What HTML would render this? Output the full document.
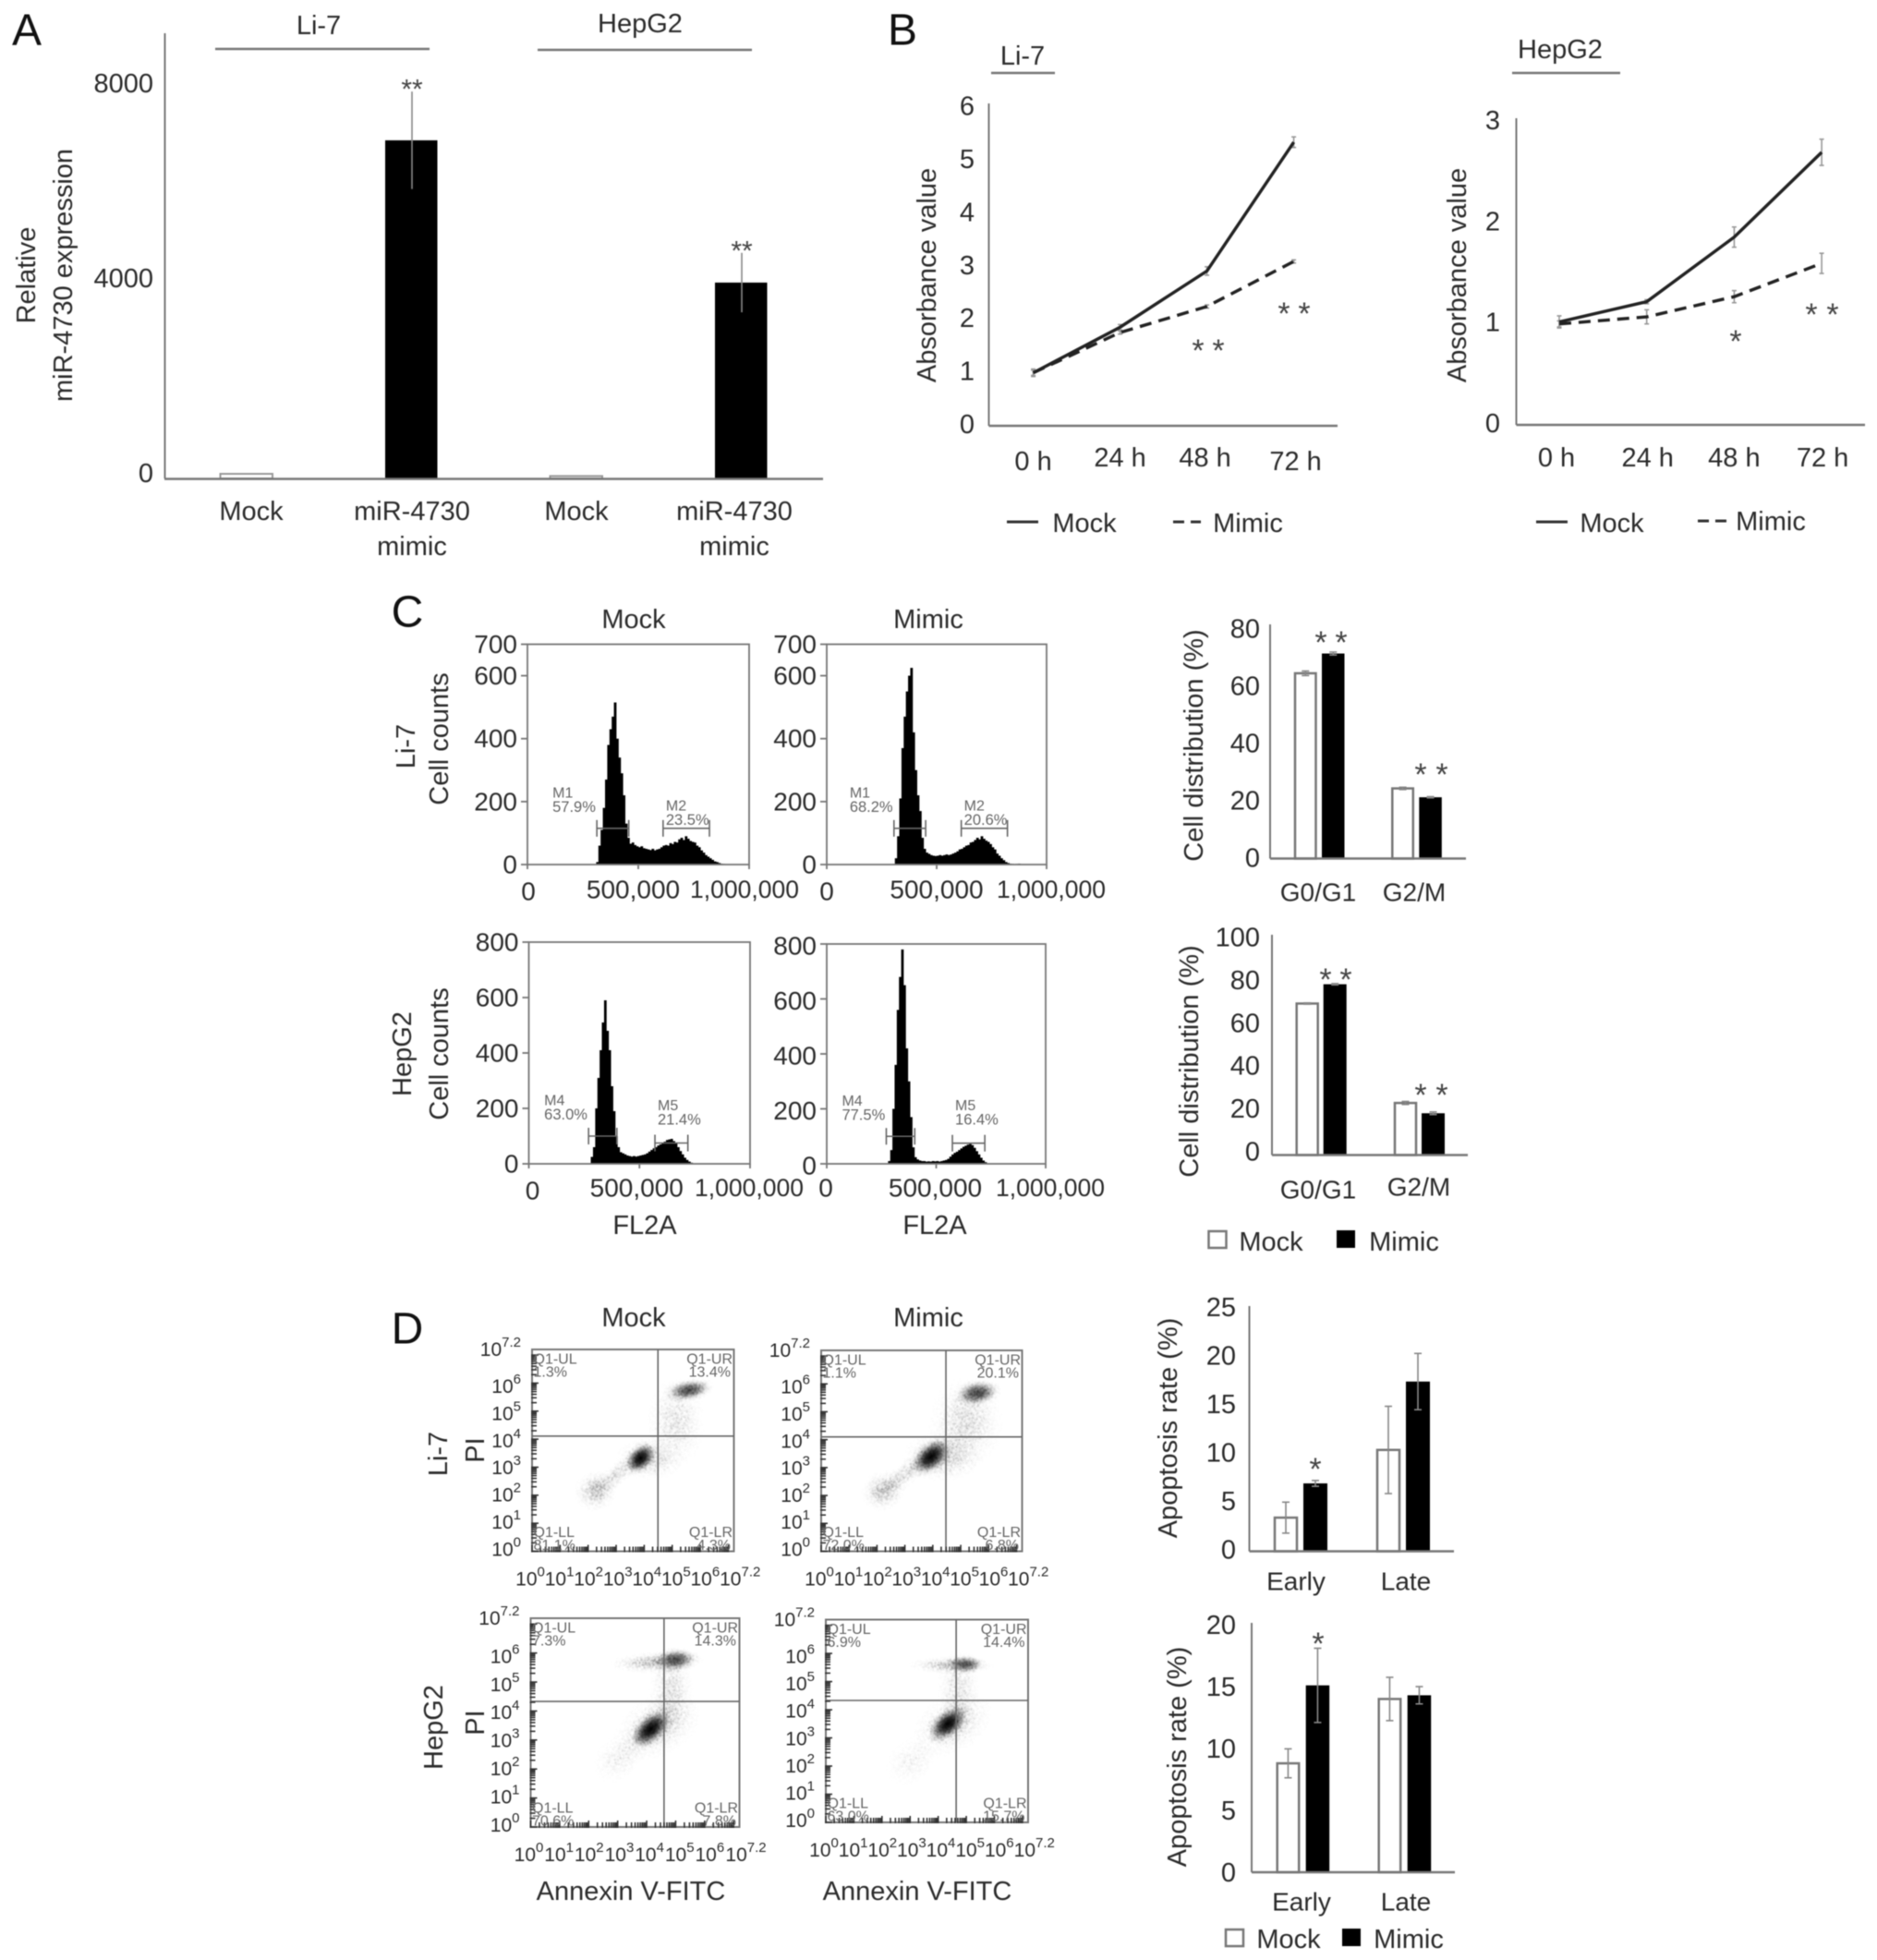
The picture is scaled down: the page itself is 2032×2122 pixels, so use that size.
<!DOCTYPE html>
<html lang="en">
<head>
<meta charset="utf-8">
<title>miR-4730 figure</title>
<style>
html,body{margin:0;padding:0;background:#fff;}
svg{display:block;filter:blur(.55px);}
text{font-family:"Liberation Sans",sans-serif;fill:#2b2b2b;font-size:29px;dominant-baseline:central;}
.m{text-anchor:middle;}
.panel{font-size:48px;fill:#111;text-anchor:middle;}
</style>
</head>
<body>
<svg id="chart" xmlns="http://www.w3.org/2000/svg" width="2032" height="2122" viewBox="0 0 2032 2122">
  <rect x="0" y="0" width="2032" height="2122" fill="#fff"/>
  <defs>
    <radialGradient id="cloud">
      <stop offset="0" stop-color="#000" stop-opacity="1"/>
      <stop offset=".35" stop-color="#000" stop-opacity=".72"/>
      <stop offset=".7" stop-color="#000" stop-opacity=".22"/>
      <stop offset="1" stop-color="#000" stop-opacity="0"/>
    </radialGradient>
    <filter id="grain" x="-5%" y="-5%" width="110%" height="110%" color-interpolation-filters="sRGB">
      <feTurbulence type="fractalNoise" baseFrequency="0.8" numOctaves="2" seed="4" result="noise"/>
      <feColorMatrix in="noise" type="matrix" values="0 0 0 0 0  0 0 0 0 0  0 0 0 0 0  3.2 0 0 0 -1.1" result="mask"/>
      <feComposite in="SourceGraphic" in2="mask" operator="arithmetic" k1="0" k2="2" k3="2" k4="-2" result="speckle"/>
      <feGaussianBlur in="speckle" stdDeviation=".7"/>
    </filter>
  </defs>

  <text class="panel" x="29" y="33">A</text>
  <text class="panel" x="977" y="33">B</text>
  <text class="panel" x="441" y="663">C</text>
  <text class="panel" x="441" y="1439">D</text>

  <!-- Panel A -->
  <text class="m" x="345" y="28">Li-7</text>
  <text class="m" x="693" y="26">HepG2</text>
  <line x1="233" x2="465" y1="53" y2="53" stroke="#777" stroke-width="2.5"/>
  <line x1="582" x2="814" y1="54" y2="54" stroke="#777" stroke-width="2.5"/>
  <text class="m" transform="rotate(-90 29 298)" x="29" y="298">Relative</text>
  <text class="m" transform="rotate(-90 69 298)" x="69" y="298">miR-4730 expression</text>
  <text class="m" x="446" y="592">mimic</text>
  <text class="m" x="795" y="592">mimic</text>

  <!-- Panel B -->
  <text class="m" x="1107" y="61">Li-7</text>
  <line x1="1073" x2="1142" y1="79" y2="79" stroke="#777" stroke-width="2.5"/>
  <text class="m" x="1689" y="54">HepG2</text>
  <line x1="1637" x2="1754" y1="79" y2="79" stroke="#777" stroke-width="2.5"/>
  <text class="m" transform="rotate(-90 1004 298)" x="1004" y="298">Absorbance value</text>
  <text class="m" transform="rotate(-90 1578 298)" x="1578" y="298">Absorbance value</text>
  <line x1="1090" x2="1124" y1="565" y2="565" stroke="#333" stroke-width="3"/>
  <text class="m" x="1174" y="567">Mock</text>
  <line x1="1270" x2="1300" y1="565" y2="565" stroke="#333" stroke-width="3" stroke-dasharray="12 7"/>
  <text class="m" x="1351" y="567">Mimic</text>
  <line x1="1663" x2="1697" y1="565" y2="565" stroke="#333" stroke-width="3"/>
  <text class="m" x="1745" y="567">Mock</text>
  <line x1="1838" x2="1869" y1="564" y2="564" stroke="#333" stroke-width="3" stroke-dasharray="12 7"/>
  <text class="m" x="1917" y="565">Mimic</text>

  <!-- Panel C labels -->
  <text class="m" x="686" y="671">Mock</text>
  <text class="m" x="1005" y="671">Mimic</text>
  <text class="m" transform="rotate(-90 440 808)" x="440" y="808">Li-7</text>
  <text class="m" transform="rotate(-90 476 800)" x="476" y="800">Cell counts</text>
  <text class="m" transform="rotate(-90 436 1141)" x="436" y="1141">HepG2</text>
  <text class="m" transform="rotate(-90 476 1141)" x="476" y="1141">Cell counts</text>
  <text class="m" x="698" y="1327">FL2A</text>
  <text class="m" x="1012" y="1327">FL2A</text>
  <text class="m" transform="rotate(-90 1293 807)" x="1293" y="807">Cell distribution (%)</text>
  <text class="m" transform="rotate(-90 1288 1149)" x="1288" y="1149">Cell distribution (%)</text>
  <rect x="1308.5" y="1333" width="19" height="18" fill="#fff" stroke="#777" stroke-width="2.5"/>
  <text class="m" x="1376" y="1345">Mock</text>
  <rect x="1447" y="1332" width="20" height="19" fill="#000"/>
  <text class="m" x="1520" y="1345">Mimic</text>

  <!-- Panel D labels -->
  <text class="m" x="686" y="1427">Mock</text>
  <text class="m" x="1005" y="1427">Mimic</text>
  <text class="m" transform="rotate(-90 475 1574)" x="475" y="1574">Li-7</text>
  <text class="m" transform="rotate(-90 515 1570)" x="515" y="1570">PI</text>
  <text class="m" transform="rotate(-90 470 1870)" x="470" y="1870">HepG2</text>
  <text class="m" transform="rotate(-90 515 1865)" x="515" y="1865">PI</text>
  <text class="m" x="683" y="2048">Annexin V-FITC</text>
  <text class="m" x="993" y="2048">Annexin V-FITC</text>
  <text class="m" transform="rotate(-90 1265 1546)" x="1265" y="1546">Apoptosis rate (%)</text>
  <text class="m" transform="rotate(-90 1275 1902)" x="1275" y="1902">Apoptosis rate (%)</text>
  <rect x="1327" y="2089" width="19" height="18" fill="#fff" stroke="#777" stroke-width="2.5"/>
  <text class="m" x="1395" y="2100">Mock</text>
  <rect x="1453" y="2088" width="20" height="19" fill="#000"/>
  <text class="m" x="1525" y="2100">Mimic</text>
</svg>

<script>
/* ---------- Panel A data ---------- */
const aCategories = ['Mock', 'miR-4730', 'Mock', 'miR-4730'];
const aValues = [95, 6940, 50, 4020];
const aErrors = [0, 1000, 0, 610];
const aTicks = [0, 4000, 8000];

/* ---------- Panel B data ---------- */
const bCategories = ['0 h', '24 h', '48 h', '72 h'];
const bLi7Mock = [1.0, 1.86, 2.92, 5.35];
const bLi7Mimic = [1.0, 1.76, 2.25, 3.1];
const bLi7MockErr = [0.07, 0.05, 0.08, 0.1];
const bLi7MimicErr = [0.05, 0.03, 0.03, 0.03];
const bLi7Ticks = [0, 1, 2, 3, 4, 5, 6];
const bHepMock = [1.02, 1.22, 1.86, 2.7];
const bHepMimic = [1.0, 1.07, 1.27, 1.6];
const bHepMockErr = [0.06, 0.02, 0.1, 0.13];
const bHepMimicErr = [0.03, 0.07, 0.06, 0.1];
const bHepTicks = [0, 1, 2, 3];

/* ---------- Panel C histogram data: counts per 10,000-wide FL2A bin ---------- */
const histLi7Mock = [0,8,60,110,180,270,380,430,470,515,400,340,290,220,130,85,66,70,62,58,55,58,52,50,48,46,50,45,48,50,55,60,62,60,68,65,72,70,80,85,78,90,82,75,72,70,60,55,45,38,30,25,20,15,10,8,5,3,2];
const histLi7Mimic = [2,20,90,210,370,470,550,600,625,420,300,220,170,85,50,38,34,30,28,27,28,30,28,30,32,30,32,35,38,42,48,50,55,60,62,70,72,78,85,80,90,82,76,72,65,55,48,35,28,20,14,8,5,3,2,1,2,3,1];
const histHepMock = [1,25,60,200,310,410,510,590,480,410,280,190,100,60,42,38,34,30,28,26,28,26,28,30,32,34,38,44,50,56,60,66,70,76,80,86,88,90,82,76,60,46,34,22,14,8,4,1];
const histHepMimic = [1,10,50,200,360,560,680,780,650,420,300,170,60,24,16,12,10,10,8,9,8,10,9,10,8,10,12,14,18,26,34,40,44,50,56,62,66,70,72,68,58,46,34,22,12,6,2];
const histLi7Ticks = [0, 200, 400, 600, 700];
const histHepTicks = [0, 200, 400, 600, 800];
const histXTicks = [0, 500000, 1000000];
const histXTickLabels = ['0', '500,000', '1,000,000'];
const gateLi7Mock = [['M1', '57.9%', 313000, 457000], ['M2', '23.5%', 612000, 821000]];
const gateLi7Mimic = [['M1', '68.2%', 306000, 450000], ['M2', '20.6%', 612000, 822000]];
const gateHepMock = [['M4', '63.0%', 270000, 398000], ['M5', '21.4%', 570000, 719000]];
const gateHepMimic = [['M4', '77.5%', 272000, 402000], ['M5', '16.4%', 574000, 722000]];

/* ---------- Panel C bar data ---------- */
const phaseCategories = ['G0/G1', 'G2/M'];
const cLi7Mock = [64.7, 24.5];
const cLi7Mimic = [71.6, 21.4];
const cLi7MockErr = [0.8, 0.4];
const cLi7MimicErr = [0.5, 0.2];
const cLi7Ticks = [0, 20, 40, 60, 80];
const cHepMock = [70.7, 24.3];
const cHepMimic = [79.7, 19.5];
const cHepMockErr = [0.3, 0.7];
const cHepMimicErr = [0.3, 0.6];
const cHepTicks = [0, 20, 40, 60, 80, 100];

/* ---------- Panel D scatter data: [log x, log y, rx, ry (decades), tilt deg, opacity] ---------- */
const scatterLi7Mock = [
  [4.2, 3.3, 1.3, 0.8, 0, .4], [2.95, 2.68, 1.2, 0.4, -40, .4], [2.27, 2.15, 0.8, 0.75, -30, .55],
  [5.13, 4.6, 1.1, 1.7, 0, .32], [5.6, 5.75, 0.95, 0.42, -10, .95], [3.87, 3.32, 0.75, 0.5, -45, 1]
];
const scatterLi7Mimic = [
  [4.35, 3.4, 1.5, 0.95, 0, .45], [3.0, 2.75, 1.3, 0.45, -40, .4], [2.23, 2.17, 0.85, 0.75, -30, .55],
  [5.18, 4.6, 1.4, 1.7, 0, .38], [5.6, 5.67, 0.9, 0.5, -10, 1], [3.94, 3.39, 0.95, 0.58, -40, 1]
];
const scatterHepMock = [
  [4.4, 3.5, 1.7, 1.1, -30, .42], [3.06, 2.42, 1.1, 0.8, -45, .22], [4.84, 4.77, 0.8, 1.5, 0, .35],
  [4.35, 5.69, 1.7, 0.38, -3, .6], [5.0, 5.77, 0.85, 0.45, -5, .8], [4.14, 3.38, 1.0, 0.55, -42, 1]
];
const scatterHepMimic = [
  [4.5, 3.5, 1.6, 1.1, -30, .38], [3.05, 2.19, 1.1, 0.85, -45, .18], [4.72, 4.75, 0.8, 1.5, 0, .32],
  [4.47, 5.58, 1.6, 0.32, 0, .55], [4.97, 5.62, 0.75, 0.36, 0, .75], [4.35, 3.5, 0.95, 0.55, -40, 1]
];
const logDecades = [0, 1, 2, 3, 4, 5, 6, 7.2];
const quadLi7Mock = ['1.3%', '13.4%', '81.1%', '4.3%'];
const quadLi7Mimic = ['1.1%', '20.1%', '72.0%', '6.8%'];
const quadHepMock = ['7.3%', '14.3%', '70.6%', '7.8%'];
const quadHepMimic = ['6.9%', '14.4%', '63.0%', '15.7%'];
/* quadrant gates as log decades [x, y] */
const gateQuadLi7Mock = [4.49, 4.11];
const gateQuadLi7Mimic = [4.47, 4.10];
const gateQuadHepMock = [4.6, 4.33];
const gateQuadHepMimic = [4.64, 4.33];

/* ---------- Panel D bar data ---------- */
const stageCategories = ['Early', 'Late'];
const dLi7Mock = [3.47, 10.45];
const dLi7Mimic = [7.0, 17.5];
const dLi7MockErr = [1.6, 4.5];
const dLi7MimicErr = [0.3, 2.9];
const dLi7Ticks = [0, 5, 10, 15, 20, 25];
const dHepMock = [8.8, 14.0];
const dHepMimic = [15.1, 14.3];
const dHepMockErr = [1.17, 1.75];
const dHepMimicErr = [3.0, 0.7];
const dHepTicks = [0, 5, 10, 15, 20];

/* ---------- drawing helpers ---------- */
const svg = document.getElementById('chart');
const NS = 'http://www.w3.org/2000/svg';
const AXIS = '#777';

function node(tag, attrs, name) {
  const el = document.createElementNS(NS, tag);
  for (const k in attrs) el.setAttribute(k, attrs[k]);
  
  
  svg.appendChild(el);
  return el;
}
function line(x1, y1, x2, y2, stroke, w, name) {
  return node('line', {x1: x1, y1: y1, x2: x2, y2: y2, stroke: stroke, 'stroke-width': w}, name);
}
function label(x, y, str, anchor, size, name, fill) {
  const el = node('text', {x: x, y: y, 'text-anchor': anchor, style: 'font-size:' + size + 'px' + (fill ? ';fill:' + fill : '')}, name);
  el.textContent = str;
  return el;
}
function star(x, y, name) {
  return label(x, y + 8, '*', 'middle', 34, name, '#444');
}
function errorBar(x, yTop, yBottom, cap, name, color) {
  line(x, yTop, x, yBottom, color, 1.6, name);
  line(x - cap, yTop, x + cap, yTop, color, 1.6, name + '-cap-top');
  line(x - cap, yBottom, x + cap, yBottom, color, 1.6, name + '-cap-bottom');
}

/* ---------- Panel A ---------- */
(function () {
  const y = v => 518 - v * 0.05275;
  const x = i => 238.5 + i * 178.5;
  const labelDx = [33.5, 29, 28.5, 21];
  line(178.5, 36, 178.5, 518, AXIS, 2, 'a-y-axis');
  aTicks.forEach(t => {
    label(166, y(t) - 5, String(t), 'end', 29, 'a-y-tick-label');
  });
  aValues.forEach((v, i) => {
    const isMimic = i % 2 === 1;
    node('rect', {x: x(i), y: y(v), width: 56.5, height: 518 - y(v), fill: isMimic ? '#000' : '#fff', stroke: isMimic ? 'none' : '#999', 'stroke-width': 2}, isMimic ? 'a-bar-mimic' : 'a-bar-mock');
    if (aErrors[i]) {
      line(x(i) + 29, y(v + aErrors[i]), x(i) + 29, y(v - aErrors[i]), '#888', 1.6, 'a-error-bar');
      label(x(i) + 29, y(v + aErrors[i]) - 2, '**', 'middle', 30, 'a-significance-stars', '#444');
    }
    label(x(i) + labelDx[i], 554, aCategories[i], 'middle', 29, 'a-x-tick-label');
  });
  line(178, 518.5, 891, 518.5, AXIS, 2.5, 'a-x-axis');
})();

/* ---------- Panel B ---------- */
function lineChart(c) {
  const y = v => c.base - v * c.k;
  const x = i => c.x0 + i * c.step;
  line(c.axisX, c.top, c.axisX, c.base, AXIS, 2, c.id + '-y-axis');
  line(c.axisX, c.base, c.right, c.base, AXIS, 2.5, c.id + '-x-axis');
  c.ticks.forEach(t => {
    label(c.tickX, y(t) - 1, String(t), 'middle', 29, c.id + '-y-tick-label');
  });
  bCategories.forEach((cat, i) => {
    label(x(i) + c.labelDx[i], c.labelY[i], cat, 'middle', 29, c.id + '-x-tick-label');
  });
  c.mockErr.forEach((e, i) => {
    errorBar(x(i), y(c.mock[i] + e), y(c.mock[i] - e), 2.5, c.id + '-mock-error', '#999');
  });
  c.mimicErr.forEach((e, i) => {
    errorBar(x(i), y(c.mimic[i] + e), y(c.mimic[i] - e), 2.5, c.id + '-mimic-error', '#999');
  });
  node('polyline', {points: c.mock.map((v, i) => x(i) + ',' + y(v)).join(' '), fill: 'none', stroke: '#222', 'stroke-width': 3.4}, c.id + '-mock-line');
  node('polyline', {points: c.mimic.map((v, i) => x(i) + ',' + y(v)).join(' '), fill: 'none', stroke: '#222', 'stroke-width': 3.4, 'stroke-dasharray': '13 8'}, c.id + '-mimic-line');
}
lineChart({id: 'b-li7', axisX: 1070.5, top: 112, base: 461, right: 1448, k: 57.4, x0: 1118.6, step: 94, tickX: 1047,
  ticks: bLi7Ticks, mock: bLi7Mock, mimic: bLi7Mimic, mockErr: bLi7MockErr, mimicErr: bLi7MimicErr,
  labelDx: [0, 0, -2, 2], labelY: [500, 496, 496, 500]});
lineChart({id: 'b-hep', axisX: 1641.5, top: 128, base: 460, right: 2019, k: 109.3, x0: 1688, step: 94.7, tickX: 1616,
  ticks: bHepTicks, mock: bHepMock, mimic: bHepMimic, mockErr: bHepMockErr, mimicErr: bHepMimicErr,
  labelDx: [-3, 1, 0, 1], labelY: [496, 496, 496, 496]});
[[1297, 372], [1319, 372], [1390, 332], [1412, 332], [1879, 362], [1961, 333], [1984, 333]].forEach(p => {
  star(p[0], p[1], 'b-significance-star');
});

/* ---------- Panel C histograms ---------- */
function histogram(c) {
  const x = v => c.left + v / 1000000 * c.xSpan;
  const y = v => c.bottom - v / c.yMax * (c.bottom - c.top);
  const BIN = 10000;
  c.counts.forEach((n, i) => {
    const v0 = c.start + i * BIN;
    node('rect', {x: x(v0), y: y(n), width: x(BIN) - x(0) + .4, height: c.bottom - y(n), fill: '#000'}, c.id + '-bin');
  });
  node('rect', {x: c.left, y: c.top, width: c.right - c.left, height: c.bottom - c.top, fill: 'none', stroke: AXIS, 'stroke-width': 1.8}, c.id + '-frame');
  c.ticks.forEach(t => {
    line(c.left - 7, y(t), c.left, y(t), AXIS, 1.8, c.id + '-y-tick');
    label(c.left - 11, y(t) + (c.tickDy || 0), String(t), 'end', 28, c.id + '-y-tick-label');
  });
  histXTicks.forEach((t, i) => {
    line(x(t), c.bottom, x(t), c.bottom + 5, AXIS, 1.8, c.id + '-x-tick');
    label(x(t) + c.xDx[i], c.xLabelY[i], histXTickLabels[i], 'middle', i === 2 ? 26.5 : 28, c.id + '-x-tick-label');
  });
  c.gates.forEach((g, i) => {
    const gy = y(115 - (c.yMax === 800 ? (i ? 40 : 15) : 0));
    const x1 = x(g[2]), x2 = x(g[3]);
    line(x1, gy, x2, gy, '#666', 1.6, c.id + '-gate');
    line(x1, gy - 9, x1, gy + 9, '#666', 1.6, c.id + '-gate-end');
    line(x2, gy - 9, x2, gy + 9, '#666', 1.6, c.id + '-gate-end');
    const tx = i === 0 ? x1 - 48 : x1 + 3;
    const ty = i === 0 ? gy - 23 : gy - (c.yMax === 800 ? 25 : 9);
    label(tx, ty - 15, g[0], 'start', 16, c.id + '-gate-name', '#666');
    label(tx, ty, g[1], 'start', 16.5, c.id + '-gate-percent', '#666');
  });
}
histogram({id: 'c-li7-mock', left: 571, right: 811, top: 697.5, bottom: 936, xSpan: 240, yMax: 700, start: 300000, counts: histLi7Mock, ticks: histLi7Ticks, gates: gateLi7Mock, xDx: [1, -5.5, -5], xLabelY: [965, 963, 963]});
histogram({id: 'c-li7-mimic', left: 895, right: 1133, top: 697.5, bottom: 936, xSpan: 238, yMax: 700, start: 300000, counts: histLi7Mimic, ticks: histLi7Ticks, gates: gateLi7Mimic, xDx: [0, 0, 5], xLabelY: [965, 963, 963]});
histogram({id: 'c-hep-mock', left: 572.5, right: 812, top: 1020, bottom: 1260, xSpan: 239.5, yMax: 800, start: 270000, counts: histHepMock, ticks: histHepTicks, gates: gateHepMock, xDx: [4, -3, -1], xLabelY: [1289, 1286, 1286]});
histogram({id: 'c-hep-mimic', left: 895, right: 1132, top: 1022, bottom: 1260, xSpan: 237, yMax: 800, start: 270000, counts: histHepMimic, ticks: histHepTicks, gates: gateHepMimic, xDx: [-1, -1, 5], xLabelY: [1286, 1286, 1286], tickDy: 2});

/* ---------- grouped bars ---------- */
function barChart(c) {
  const y = v => c.base - v * c.k;
  const x = (g, s) => c.x0 + g * c.groupStep + s * c.seriesStep;
  line(c.axisX, c.top, c.axisX, c.base, AXIS, 2, c.id + '-y-axis');
  c.ticks.forEach(t => {
    label(c.tickRight, y(t) + c.tickDy, String(t), 'end', 29, c.id + '-y-tick-label');
  });
  [c.mock, c.mimic].forEach((series, s) => {
    const errs = s ? c.mimicErr : c.mockErr;
    series.forEach((v, g) => {
      const bx = x(g, s);
      node('rect', {x: s ? bx : bx + 1, y: y(v), width: s ? c.barW : c.barW - 2, height: c.base - y(v), fill: s ? '#000' : '#fff', stroke: s ? 'none' : AXIS, 'stroke-width': s ? 0 : 2.5}, c.id + (s ? '-bar-mimic' : '-bar-mock'));
      errorBar(bx + c.barW / 2, y(v + errs[g]), y(v - errs[g]), 4, c.id + '-error-bar', '#888');
    });
  });
  line(c.axisX, c.base, c.right, c.base, AXIS, 2.5, c.id + '-x-axis');
  c.categories.forEach((cat, g) => {
    label(c.labelX[g], c.labelY[g], cat, 'middle', 28, c.id + '-x-tick-label');
  });
  c.stars.forEach(p => {
    star(p[0], p[1], c.id + '-significance-star');
  });
}
barChart({id: 'c-bars-li7', axisX: 1375, top: 676, base: 929.5, right: 1587, k: 3.1, x0: 1401, groupStep: 105.3, seriesStep: 30, barW: 24.5,
  tickRight: 1364, tickDy: 0, ticks: cLi7Ticks, mock: cLi7Mock, mimic: cLi7Mimic, mockErr: cLi7MockErr, mimicErr: cLi7MimicErr,
  categories: phaseCategories, labelX: [1427, 1531], labelY: [966, 966], stars: [[1430, 688], [1452, 688], [1538, 831], [1561, 831]]});
barChart({id: 'c-bars-hep', axisX: 1377, top: 1012, base: 1250.5, right: 1589, k: 2.32, x0: 1402.7, groupStep: 106.3, seriesStep: 30, barW: 25,
  tickRight: 1364, tickDy: -3, ticks: cHepTicks, mock: cHepMock, mimic: cHepMimic, mockErr: cHepMockErr, mimicErr: cHepMimicErr,
  categories: phaseCategories, labelX: [1427, 1536], labelY: [1288, 1285], stars: [[1435, 1053], [1457, 1053], [1538, 1178], [1561, 1178]]});
barChart({id: 'd-bars-li7', axisX: 1352.5, top: 1414, base: 1679.5, right: 1574, k: 10.5, x0: 1379, groupStep: 111, seriesStep: 32, barW: 26,
  tickRight: 1338, tickDy: -1, ticks: dLi7Ticks, mock: dLi7Mock, mimic: dLi7Mimic, mockErr: dLi7MockErr, mimicErr: dLi7MimicErr,
  categories: stageCategories, labelX: [1403, 1522], labelY: [1712, 1712], stars: [[1424, 1583]]});
barChart({id: 'd-bars-hep', axisX: 1355, top: 1757, base: 2027, right: 1575, k: 13.4, x0: 1381.7, groupStep: 110, seriesStep: 32, barW: 25.5,
  tickRight: 1338, tickDy: 1, ticks: dHepTicks, mock: dHepMock, mimic: dHepMimic, mockErr: dHepMockErr, mimicErr: dHepMimicErr,
  categories: stageCategories, labelX: [1409, 1522], labelY: [2059, 2059], stars: [[1427, 1772]]});

/* ---------- Panel D scatter plots ---------- */
function powerLabel(x, y, exp, anchor, name) {
  const el = node('text', {x: x, y: y, 'text-anchor': anchor, style: 'font-size:21px'}, name);
  const base = document.createElementNS(NS, 'tspan');
  base.textContent = '10';
  el.appendChild(base);
  const sup = document.createElementNS(NS, 'tspan');
  sup.setAttribute('dy', '-8');
  sup.setAttribute('style', 'font-size:15px');
  sup.textContent = exp;
  el.appendChild(sup);
}
function scatter(c) {
  const W = c.right - c.left, H = c.bottom - c.top;
  const x = d => c.left + d / 7.2 * W;
  const y = d => c.bottom - d / 7.2 * H;
  const cloud = node('g', {filter: 'url(#grain)', opacity: .72}, c.id + '-event-cloud');
  c.clusters.forEach(k => {
    const cx = x(k[0]), cy = y(k[1]);
    const el = node('ellipse', {cx: cx, cy: cy, rx: k[2] * W / 7.2, ry: k[3] * H / 7.2, fill: 'url(#cloud)', opacity: k[5], transform: 'rotate(' + k[4] + ' ' + cx + ' ' + cy + ')'}, c.id + '-event-cluster');
    cloud.appendChild(el);
  });
  c.clusters.forEach(k => {
    if (k[5] < .75) return;
    const cx = x(k[0]), cy = y(k[1]);
    node('ellipse', {cx: cx, cy: cy, rx: k[2] * .8 * W / 7.2, ry: k[3] * .8 * H / 7.2, fill: 'url(#cloud)', opacity: k[5] === 1 && k[0] < 5.2 ? 1 : .5, transform: 'rotate(' + k[4] + ' ' + cx + ' ' + cy + ')'}, c.id + '-event-cluster-core');
  });
  node('rect', {x: c.left, y: c.top, width: W, height: H, fill: 'none', stroke: AXIS, 'stroke-width': 2}, c.id + '-frame');
  line(x(c.gate[0]), c.top, x(c.gate[0]), c.bottom, '#666', 1.6, c.id + '-quadrant-vertical');
  line(c.left, y(c.gate[1]), c.right, y(c.gate[1]), '#666', 1.6, c.id + '-quadrant-horizontal');
  for (let d = 0; d < 8; d++) {
    for (let m = 1; m < 10; m++) {
      const p = d + Math.log10(m);
      if (p > 7.2) continue;
      const len = m === 1 ? 7 : 5;
      line(c.left - 1, y(p), c.left + len, y(p), '#333', 1.6, c.id + '-y-minor-tick');
      line(x(p), c.bottom + 1, x(p), c.bottom - len, '#333', 1.6, c.id + '-x-minor-tick');
    }
  }
  logDecades.forEach(d => {
    const exp = String(d);
    const ly = d === 7.2 ? c.top + 0 : c.bottom - d / 7.2 * H * 0.97 - 2;
    powerLabel(c.left - 12, ly, exp, 'end', c.id + '-y-tick-label');
    powerLabel(c.left - 2 + d / 7.2 * W * 1.04, c.bottom + 30, exp, 'middle', c.id + '-x-tick-label');
  });
  const pad = 1.5;
  const names = ['Q1-UL', 'Q1-UR', 'Q1-LL', 'Q1-LR'];
  names.forEach((n, i) => {
    const isRight = i % 2 === 1, isLow = i > 1;
    const tx = isRight ? c.right - pad : c.left + pad;
    const ty = isLow ? c.bottom - 20 : c.top + 11;
    label(tx, ty, n, isRight ? 'end' : 'start', 16, c.id + '-quadrant-name', '#666');
    label(isRight ? tx - 2 : tx, ty + 14, c.quad[i], isRight ? 'end' : 'start', 16, c.id + '-quadrant-percent', '#666');
  });
}
scatter({id: 'd-li7-mock', left: 576, right: 794.5, top: 1461, bottom: 1679.5, clusters: scatterLi7Mock, quad: quadLi7Mock, gate: gateQuadLi7Mock});
scatter({id: 'd-li7-mimic', left: 889, right: 1106.5, top: 1462, bottom: 1679.5, clusters: scatterLi7Mimic, quad: quadLi7Mimic, gate: gateQuadLi7Mimic});
scatter({id: 'd-hep-mock', left: 574.5, right: 800.5, top: 1752, bottom: 1978, clusters: scatterHepMock, quad: quadHepMock, gate: gateQuadHepMock});
scatter({id: 'd-hep-mimic', left: 894, right: 1113, top: 1753.5, bottom: 1973, clusters: scatterHepMimic, quad: quadHepMimic, gate: gateQuadHepMimic});
</script>
</body>
</html>
